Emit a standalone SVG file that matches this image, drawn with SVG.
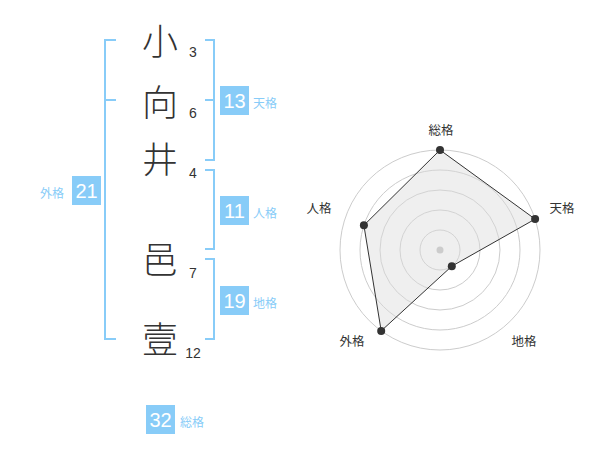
<svg xmlns="http://www.w3.org/2000/svg" width="600" height="470" viewBox="0 0 600 470">
<style>
.bk{fill:none;stroke:#88ccf8;stroke-width:2}
.box{fill:#88ccf8}
.bn{font-family:"Liberation Sans",Arial,sans-serif;font-size:20px;fill:#fff;text-anchor:middle}
.lb{font-family:"Noto Sans CJK JP",sans-serif;font-size:12px;fill:#88ccf8}
.ch{font-family:"Noto Sans CJK JP",sans-serif;font-size:36px;font-weight:300;fill:#333;text-anchor:middle}
.st{font-family:"Liberation Sans",Arial,sans-serif;font-size:14px;fill:#333;text-anchor:middle}
.grid{fill:none;stroke:#ccc;stroke-width:1}
.rl{font-family:"Noto Sans CJK JP",sans-serif;font-size:12.5px;fill:#333;text-anchor:middle}
.pt{fill:#333}
</style>
<rect width="600" height="470" fill="#fff"/>
<g id="connectors">
<path class="bk" d="M116,40H105V339H116M105,100H116"/>
<path class="bk" d="M205,40H214V160H205M205,100H214"/>
<path class="bk" d="M205,170H214V249H205"/>
<path class="bk" d="M205,259H214V339H205"/>
</g>
<g id="chars">
<text class="ch" x="160" y="55">小</text>
<text class="ch" x="160" y="116">向</text>
<text class="ch" x="160" y="173">井</text>
<text class="ch" x="160" y="273">邑</text>
<text class="ch" x="160" y="353">壹</text>
<text class="st" x="193" y="57">3</text>
<text class="st" x="193" y="118">6</text>
<text class="st" x="193" y="178">4</text>
<text class="st" x="193" y="278">7</text>
<text class="st" x="193" y="358">12</text>
</g>
<g id="tenkaku">
<rect class="box" x="220" y="86" width="29" height="29"/>
<text class="bn" x="234.5" y="107.5">13</text>
<text class="lb" x="253" y="108">天格</text>
</g>
<g id="jinkaku">
<rect class="box" x="220" y="196" width="29" height="29"/>
<text class="bn" x="234.5" y="217.5">11</text>
<text class="lb" x="253" y="218">人格</text>
</g>
<g id="chikaku">
<rect class="box" x="220" y="286" width="29" height="29"/>
<text class="bn" x="234.5" y="307.5">19</text>
<text class="lb" x="253" y="308">地格</text>
</g>
<g id="gaikaku">
<rect class="box" x="72" y="176" width="29" height="29"/>
<text class="bn" x="86.5" y="197.5">21</text>
<text class="lb" x="40" y="198">外格</text>
</g>
<g id="soukaku">
<rect class="box" x="146" y="405" width="29" height="29"/>
<text class="bn" x="160.5" y="426.5">32</text>
<text class="lb" x="180" y="427">総格</text>
</g>
<g id="radar">
<circle class="grid" cx="440" cy="250" r="20"/>
<circle class="grid" cx="440" cy="250" r="40"/>
<circle class="grid" cx="440" cy="250" r="60"/>
<circle class="grid" cx="440" cy="250" r="80"/>
<circle class="grid" cx="440" cy="250" r="100"/>
<polygon points="440,150 535.1,219.1 451.8,266.2 381.2,330.9 363.9,225.3" fill="#dcdcdc" fill-opacity="0.45" stroke="#333" stroke-width="1"/>
<circle cx="440" cy="250" r="3.5" fill="#ccc"/>
<circle class="pt" cx="440" cy="150" r="4"/>
<circle class="pt" cx="535.1" cy="219.1" r="4"/>
<circle class="pt" cx="451.8" cy="266.2" r="4"/>
<circle class="pt" cx="381.2" cy="330.9" r="4"/>
<circle class="pt" cx="363.9" cy="225.3" r="4"/>
<text class="rl" x="441" y="135">総格</text>
<text class="rl" x="562" y="213">天格</text>
<text class="rl" x="524" y="346">地格</text>
<text class="rl" x="352" y="346">外格</text>
<text class="rl" x="319" y="213">人格</text>
</g>
</svg>
